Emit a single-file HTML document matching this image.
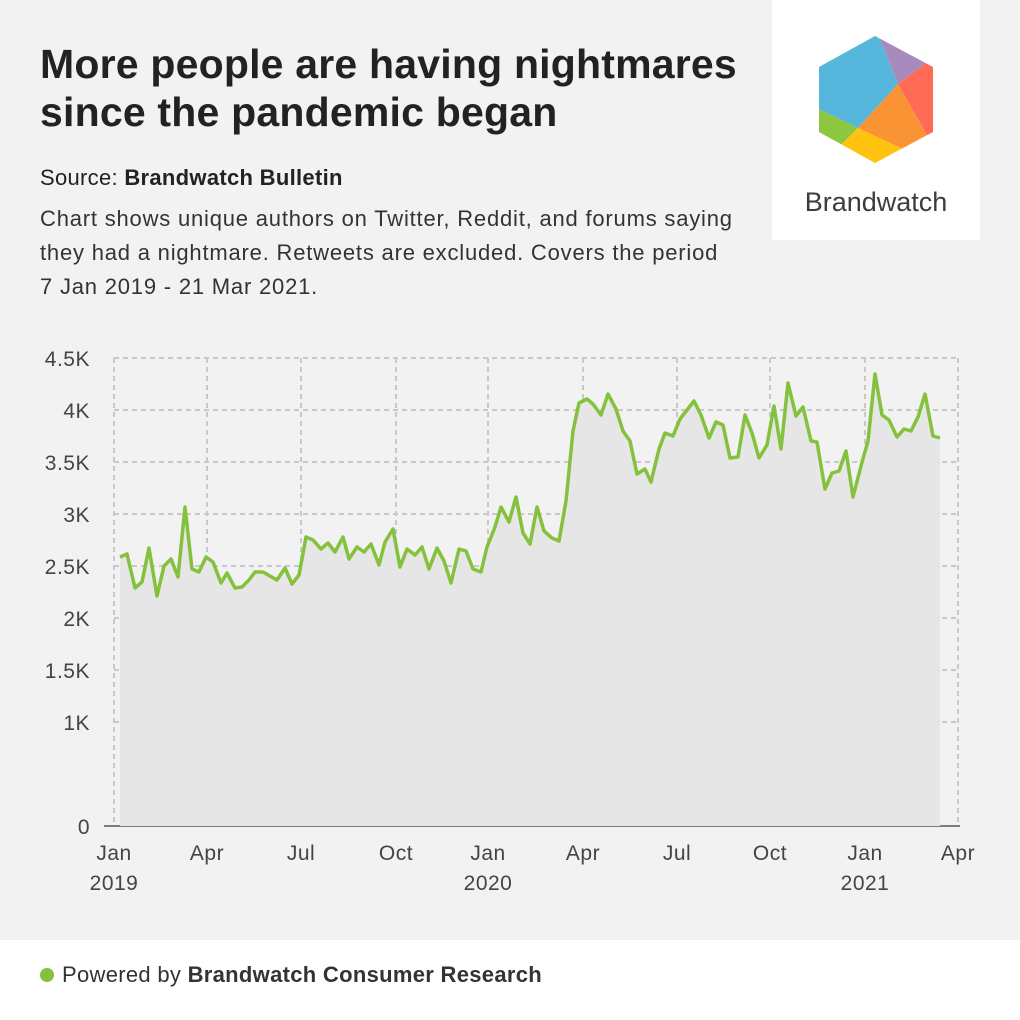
<!DOCTYPE html>
<html><head><meta charset="utf-8"><style>
body{margin:0;width:1020px;height:1020px;background:#f2f2f2;font-family:"Liberation Sans",Roboto,sans-serif;position:relative;overflow:hidden;color:#222}
.t{position:absolute;left:40px;top:40px;font-size:41px;font-weight:bold;line-height:48px;color:#222;letter-spacing:0.2px}
.src{position:absolute;left:40px;top:165px;font-size:22px;color:#222;letter-spacing:0.3px}
.desc{position:absolute;left:40px;top:202px;font-size:22px;line-height:34px;color:#333;letter-spacing:0.8px}
.logo{position:absolute;left:772px;top:0;width:208px;height:240px;background:#fff}
.foot{position:absolute;left:0;top:940px;width:1020px;height:80px;background:#fff}
.foot span{position:absolute;left:40px;top:22px;font-size:22px;color:#333;letter-spacing:0.3px}
.dot{display:inline-block;width:14px;height:14px;border-radius:7px;background:#84c13d;margin-right:8px;vertical-align:0}
svg text{font-family:"Liberation Sans",sans-serif;font-size:21px;fill:#444;letter-spacing:0.5px}
</style></head><body>
<div class="t">More people are having nightmares<br>since the pandemic began</div>
<div class="src">Source: <b>Brandwatch Bulletin</b></div>
<div class="desc">Chart shows unique authors on Twitter, Reddit, and forums saying<br>they had a nightmare. Retweets are excluded. Covers the period<br>7 Jan 2019 - 21 Mar 2021.</div>
<div class="logo"></div>
<svg width="1020" height="1020" style="position:absolute;left:0;top:0">
<defs><clipPath id="hx"><path d="M875,36 L933,67 L933,132 L875,163 L819,132 L819,67 Z"/></clipPath></defs>
<g clip-path="url(#hx)">
<polygon points="760,0 872,20 898,84 858,128 800,100" fill="#56b6dc"/>
<polygon points="872,20 960,40 930,60 898,84" fill="#a78bbf"/>
<polygon points="930,60 960,40 960,150 928,137 898,84" fill="#ff6b57"/>
<polygon points="898,84 928,137 905,150 858,128" fill="#f99334"/>
<polygon points="800,100 858,128 840,146 800,150" fill="#8dc63f"/>
<polygon points="840,146 858,128 905,150 928,137 900,180 830,180" fill="#ffc20e"/>
</g>
<text x="876" y="211" text-anchor="middle" style="font-size:27px;fill:#3d3d3d;letter-spacing:0">Brandwatch</text>
<g stroke="#c8c8c8" stroke-width="2" stroke-dasharray="5,4" fill="none">
<path d="M114,358H958M114,410H958M114,462H958M114,514H958M114,566H958M114,618H958M114,670H958M114,722H958"/>
<path d="M114,358V826M207,358V826M301,358V826M396,358V826M488,358V826M583,358V826M677,358V826M770,358V826M865,358V826M958,358V826"/>
</g>
<path d="M104,826H960" stroke="#555" stroke-width="1.5"/>
<polygon fill="#e6e6e6" points="120,826 120,557 127,554 135,588 142,582 149,548 157,596 164,566 171,559 178,577 185,507 192,569 199,572 206,557 213,562 221,583 227,573 235,588 242,587 249,580 255,572 263,572 270,576 277,580 285,568 292,584 299,575 306,537 313,540 321,549 328,543 335,552 343,537 349,559 357,547 364,552 371,544 379,565 385,542 393,529 400,567 407,549 415,555 422,547 429,569 437,548 444,561 451,583 459,549 466,551 473,569 481,572 487,547 495,527 501,507 509,522 516,497 523,533 530,544 537,507 544,531 552,538 559,541 566,501 573,431 579,403 587,399 593,404 601,415 608,394 616,409 623,431 630,441 637,474 645,469 651,482 659,449 665,433 673,436 680,419 694,401 701,415 709,438 716,422 723,425 730,458 738,457 745,415 752,433 759,458 767,445 774,406 781,449 788,383 796,416 803,407 811,441 817,442 825,489 832,473 839,471 846,451 853,497 861,466 868,441 875,374 882,415 889,420 897,437 904,429 911,431 918,417 925,394 933,436 940,438 940,826"/>
<polyline fill="none" stroke="#84c13d" stroke-width="3.5" stroke-linejoin="round" points="120,557 127,554 135,588 142,582 149,548 157,596 164,566 171,559 178,577 185,507 192,569 199,572 206,557 213,562 221,583 227,573 235,588 242,587 249,580 255,572 263,572 270,576 277,580 285,568 292,584 299,575 306,537 313,540 321,549 328,543 335,552 343,537 349,559 357,547 364,552 371,544 379,565 385,542 393,529 400,567 407,549 415,555 422,547 429,569 437,548 444,561 451,583 459,549 466,551 473,569 481,572 487,547 495,527 501,507 509,522 516,497 523,533 530,544 537,507 544,531 552,538 559,541 566,501 573,431 579,403 587,399 593,404 601,415 608,394 616,409 623,431 630,441 637,474 645,469 651,482 659,449 665,433 673,436 680,419 694,401 701,415 709,438 716,422 723,425 730,458 738,457 745,415 752,433 759,458 767,445 774,406 781,449 788,383 796,416 803,407 811,441 817,442 825,489 832,473 839,471 846,451 853,497 861,466 868,441 875,374 882,415 889,420 897,437 904,429 911,431 918,417 925,394 933,436 940,438"/>
<g text-anchor="end">
<text x="90" y="366">4.5K</text><text x="90" y="418">4K</text><text x="90" y="470">3.5K</text><text x="90" y="522">3K</text><text x="90" y="574">2.5K</text><text x="90" y="626">2K</text><text x="90" y="678">1.5K</text><text x="90" y="730">1K</text><text x="90" y="834">0</text>
</g>
<g text-anchor="middle">
<text x="114" y="860">Jan</text><text x="114" y="890">2019</text>
<text x="207" y="860">Apr</text><text x="301" y="860">Jul</text><text x="396" y="860">Oct</text>
<text x="488" y="860">Jan</text><text x="488" y="890">2020</text>
<text x="583" y="860">Apr</text><text x="677" y="860">Jul</text><text x="770" y="860">Oct</text>
<text x="865" y="860">Jan</text><text x="865" y="890">2021</text>
<text x="958" y="860">Apr</text>
</g>
</svg>
<div class="foot"><span><i class="dot"></i>Powered by <b>Brandwatch Consumer Research</b></span></div>
</body></html>
